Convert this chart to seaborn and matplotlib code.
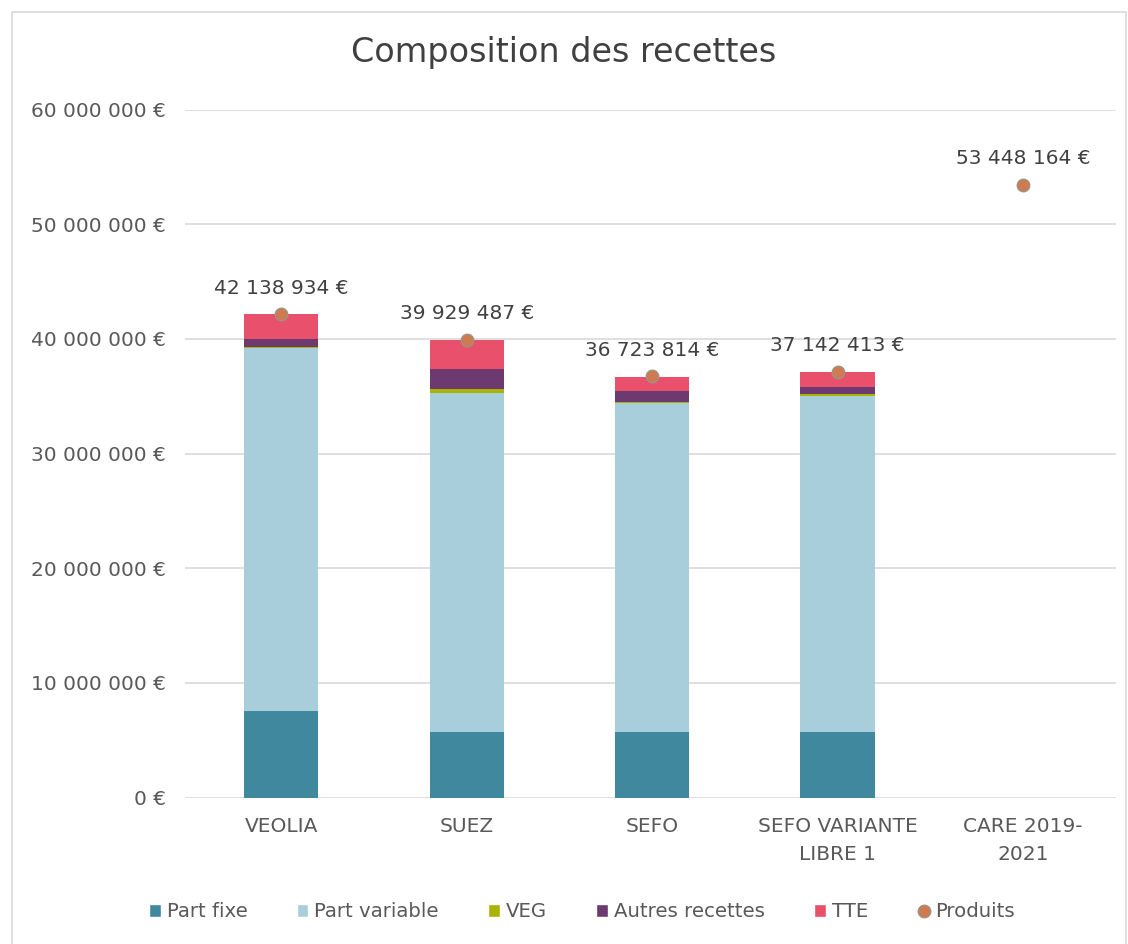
"""Composition des recettes - stacked bars with Produits totals"""
import matplotlib
matplotlib.use("Agg")
import matplotlib.pyplot as plt
from matplotlib.patches import Patch, Rectangle
from matplotlib.lines import Line2D
from matplotlib.ticker import FuncFormatter, MultipleLocator
import numpy as np
import pandas as pd
import seaborn as sns


CATEGORIES = ["VEOLIA", "SUEZ", "SEFO", "SEFO VARIANTE\nLIBRE 1", "CARE 2019-\n2021"]
PART_FIXE = [7.6e6, 5.7e6, 5.7e6, 5.7e6, 0]
PART_VARIABLE = [31.6e6, 29.55e6, 28.7e6, 29.3e6, 0]
VEG = [0.1e6, 0.35e6, 0.1e6, 0.2e6, 0]
AUTRES = [0.7e6, 1.75e6, 1.0e6, 0.6e6, 0]
TTE = [2.14e6, 2.58e6, 1.22e6, 1.34e6, 0]
PRODUITS = [42138934, 39929487, 36723814, 37142413, 53448164]

SERIES = ["Part fixe", "Part variable", "VEG", "Autres recettes", "TTE"]
COLORS = ["#3F889E", "#A8CEDC", "#A9B300", "#6C3A6F", "#E8506B"]
DOT_COLOR = "#CF7A50"
TEXT_GRAY = "#595959"


def fmt_euro(v):
    return f"{v:,.0f} €".replace(",", " ")


def plot_recettes():
    sns.set_theme(style="white")
    plt.rcParams["font.family"] = ["DejaVu Sans"]

    df = pd.DataFrame({"Part fixe": PART_FIXE,
                       "Part variable": PART_VARIABLE,
                       "VEG": VEG,
                       "Autres recettes": AUTRES,
                       "TTE": TTE}, index=CATEGORIES)
    cum = df.cumsum(axis=1)

    fig = plt.figure(figsize=(11.28, 9.44), dpi=100)
    ax = fig.add_axes([0.164, 0.155, 0.825, 0.729])

    # stack by layering cumulative bars, tallest first
    for name, color in reversed(list(zip(SERIES, COLORS))):
        sns.barplot(x=CATEGORIES, y=cum[name].values, order=CATEGORIES,
                    color=color, saturation=1, width=0.4, linewidth=0,
                    ax=ax, zorder=2)

    sns.stripplot(x=CATEGORIES, y=PRODUITS, order=CATEGORIES, jitter=False,
                  color=DOT_COLOR, size=9, edgecolor="#9C9483", linewidth=1,
                  ax=ax, zorder=4)

    for i, val in enumerate(PRODUITS):
        ax.annotate(fmt_euro(val), (i, val), xytext=(0, 12),
                    textcoords="offset points", ha="center", va="bottom",
                    fontsize=14.5, color="#404040")

    ax.set_xlim(-0.52, 4.5)
    ax.set_ylim(0, 60e6)
    ax.yaxis.set_major_locator(MultipleLocator(10e6))
    ax.yaxis.set_major_formatter(FuncFormatter(lambda v, p: fmt_euro(v)))
    ax.grid(axis="y", color="#D9D9D9", linewidth=1.2, zorder=0)
    ax.set_axisbelow(True)
    sns.despine(ax=ax, left=True, bottom=True)
    ax.tick_params(axis="both", length=0, labelsize=14.5, colors=TEXT_GRAY)
    ax.tick_params(axis="x", pad=14)
    ax.tick_params(axis="y", pad=14)
    for lbl in ax.get_xticklabels():
        lbl.set_linespacing(1.6)

    fig.suptitle("Composition des recettes", y=0.962, fontsize=24,
                 color="#404040")

    handles = [Patch(facecolor=c, label=s) for s, c in zip(SERIES, COLORS)]
    handles.append(Line2D([], [], marker="o", linestyle="none",
                          markerfacecolor=DOT_COLOR, markeredgecolor="#9C9483",
                          markersize=9, label="Produits"))
    fig.legend(handles=handles, loc="center", bbox_to_anchor=(0.516, 0.034),
               ncol=6, frameon=False, fontsize=14.2, handlelength=0.6,
               handleheight=0.6, handletextpad=0.3, columnspacing=2.5,
               labelcolor=TEXT_GRAY)

    fig.patches.append(Rectangle((12 / 1128, -0.01), 1114 / 1128, 1 - 12 / 944 + 0.01,
                                 transform=fig.transFigure, fill=False,
                                 edgecolor="#D9D9D9", linewidth=1.2))

    fig.savefig("out.png", dpi=100)


if __name__ == "__main__":
    plot_recettes()
